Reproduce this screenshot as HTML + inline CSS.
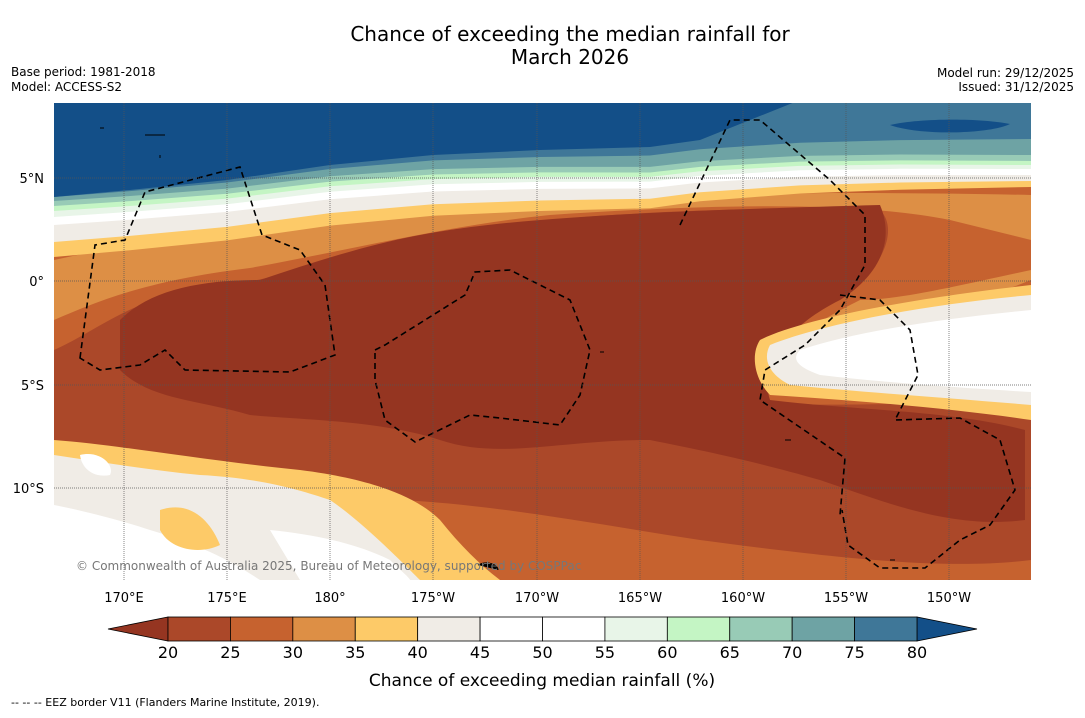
<!DOCTYPE html>
<html><head><meta charset="utf-8"><style>
body{margin:0;background:#fff;font-family:"Liberation Sans","DejaVu Sans",sans-serif}
svg text{font-family:"DejaVu Sans","Liberation Sans",sans-serif}
</style></head><body>
<svg width="1085" height="713" viewBox="0 0 1085 713">
<text x="570" y="41" font-size="20" text-anchor="middle">Chance of exceeding the median rainfall for</text>
<text x="570" y="64" font-size="20" text-anchor="middle">March 2026</text>
<text x="11" y="76" font-size="12">Base period: 1981-2018</text>
<text x="11" y="91" font-size="12">Model: ACCESS-S2</text>
<text x="1074" y="77" font-size="12" text-anchor="end">Model run: 29/12/2025</text>
<text x="1074" y="91" font-size="12" text-anchor="end">Issued: 31/12/2025</text>
<defs><clipPath id="mc"><rect x="54" y="103" width="977" height="477"/></clipPath></defs>
<g clip-path="url(#mc)">
<rect x="54" y="103" width="977" height="477" fill="#c6622f"/>
<path d="M54,260C100,250 150,240 200,235C300,225 400,210 500,205C650,195 800,190 1031,195V280C980,300 900,330 850,340C800,350 760,360 760,400L1031,410V580H54Z" fill="#dd8f45"/>
<path d="M54,320C100,300 150,280 250,268C350,250 450,225 550,215C700,205 850,200 950,220L1031,240V270C960,285 900,300 860,300C800,330 760,360 765,395L1031,395V580H54Z" fill="#c6622f"/>
<path d="M54,350C100,330 140,290 230,285C320,270 380,245 450,230C550,218 700,205 880,210C900,230 880,270 850,290C800,320 760,355 760,400C800,410 900,400 1031,405V560C950,570 850,560 700,540C600,525 500,505 400,500C300,490 200,470 54,445Z" fill="#ab4829"/>
<path d="M120,320C150,290 200,280 260,280C320,260 380,240 450,230C550,215 700,210 880,205C895,240 880,275 840,300C780,330 760,370 770,400C850,410 950,410 1025,430V520C950,530 880,500 820,480C750,460 700,450 650,440C560,440 500,460 440,440C380,420 300,420 250,415C200,400 150,400 120,370Z" fill="#953521"/>
<g id="topbands"></g>
<path d="M760,340C800,320 900,300 1031,285V420C950,408 850,400 770,395C755,380 750,355 760,340Z" fill="#fdca68"/>
<path d="M770,345C820,325 920,305 1031,295V405C950,398 860,392 790,385C770,375 762,360 770,345Z" fill="#f0ece6"/>
<path d="M800,350C860,330 950,318 1031,310V392C960,388 880,382 820,375C800,368 790,360 800,350Z" fill="#ffffff"/>
<path d="M54,440C120,445 200,460 300,470C380,480 420,500 440,520C460,545 480,565 500,580H54Z" fill="#fdca68"/>
<path d="M54,455C100,462 150,470 200,475C260,478 300,490 330,500C360,520 400,560 420,580H54Z" fill="#f0ece6"/>
<path d="M54,505C80,510 120,520 150,530C200,545 230,560 260,580H54Z" fill="#ffffff"/>
<path d="M270,530C320,535 360,545 390,560C400,570 410,578 410,580H300Z" fill="#ffffff"/>
<path d="M160,510C190,500 210,520 220,545C200,555 170,550 160,530Z" fill="#fdca68"/>
<path d="M80,455C100,450 115,465 110,475C95,478 82,470 80,455Z" fill="#ffffff"/>
<path d="M890,125C920,118 980,118 1010,124C990,134 920,136 890,125Z" fill="#134f88"/>
<g stroke="#000" stroke-width="1.6" stroke-dasharray="6,4" fill="none">
<path d="M80,358L95,245L125,240L145,192L240,167L262,235L300,250L325,285L335,355L290,372L185,370L165,350L140,365L100,370Z"/>
<path d="M375,350L385,345L465,295L475,272L510,270L570,300L590,350L580,395L560,425L500,418L470,415L415,442L385,420L375,380Z"/>
<path d="M680,225L730,120L760,120L830,180L865,215L865,265L840,310L805,345L765,370L760,400L845,458L840,515"/>
<path d="M840,295L880,300L910,330L918,375L895,420L960,418L1000,440L1015,490L990,525L960,540L925,568L880,568L848,545L842,510"/>
</g>
<g stroke="#000" stroke-width="1">
<path d="M145,135h20M100,128h4M160,155v3M785,440h6M600,352h4M890,560h5M478,565c10,-5 20,0 20,5"/>
</g>
<g stroke="#555" stroke-width="0.7" stroke-dasharray="1,1">
<line x1="124" y1="103" x2="124" y2="580"/><line x1="227" y1="103" x2="227" y2="580"/><line x1="330" y1="103" x2="330" y2="580"/><line x1="433" y1="103" x2="433" y2="580"/><line x1="537" y1="103" x2="537" y2="580"/><line x1="640" y1="103" x2="640" y2="580"/><line x1="743" y1="103" x2="743" y2="580"/><line x1="846" y1="103" x2="846" y2="580"/><line x1="949" y1="103" x2="949" y2="580"/>
<line x1="54" y1="178" x2="1031" y2="178"/><line x1="54" y1="281" x2="1031" y2="281"/><line x1="54" y1="385" x2="1031" y2="385"/><line x1="54" y1="488" x2="1031" y2="488"/>
</g>
<text x="76" y="570" font-size="12" fill="#777">© Commonwealth of Australia 2025, Bureau of Meteorology, supported by COSPPac</text>
</g>
<g font-size="13">
<text x="44" y="183" text-anchor="end">5°N</text><text x="44" y="286" text-anchor="end">0°</text><text x="44" y="390" text-anchor="end">5°S</text><text x="44" y="493" text-anchor="end">10°S</text>
</g>
<g font-size="13" text-anchor="middle">
<text x="124" y="602">170°E</text><text x="227" y="602">175°E</text><text x="330" y="602">180°</text><text x="433" y="602">175°W</text><text x="537" y="602">170°W</text><text x="640" y="602">165°W</text><text x="743" y="602">160°W</text><text x="846" y="602">155°W</text><text x="949" y="602">150°W</text>
</g>
<g id="cbar"></g>
<text x="542" y="686" font-size="17" text-anchor="middle">Chance of exceeding median rainfall (%)</text>
<text x="11" y="706" font-size="11">-- -- -- EEZ border V11 (Flanders Marine Institute, 2019).</text>
</svg>
<script>
const NS="http://www.w3.org/2000/svg";
// top latitude bands (north), drawn from bottom band up
const tb=document.getElementById('topbands');
const bx=[54,130,227,330,433,540,650,700,800,900,1031];
const by=[197,190,180,165,155,150,147,140,132,128,125];
const bandCols=["#fdca68","#f0ece6","#ffffff","#e8f5e8","#c4f5c4","#98cbb6","#6ea3a4","#3f7798","#134f88"];
const offL=[60,45,28,20,14,9,4,0,0];
const offR=[62,56,50,44,40,36,30,14,0];
for(let b=0;b<bandCols.length;b++){
 let d="M54,103";
 for(let i=0;i<bx.length;i++){const t=(bx[i]-54)/977;const off=offL[b]*(1-t)+offR[b]*t;
  let y=by[i]+off; if(b===8&&bx[i]>700) y=100; d+=` L${bx[i]},${y.toFixed(1)}`;}
 d+=" L1031,103Z";
 const p=document.createElementNS(NS,'path');p.setAttribute('d',d);p.setAttribute('fill',bandCols[b]);
 
 
 tb.appendChild(p);
}
const levels=[20,25,30,35,40,45,50,55,60,65,70,75,80];
const colors=["#ab4829","#c6622f","#dd8f45","#fdca68","#f0ece6","#ffffff","#ffffff","#e8f5e8","#c4f5c4","#98cbb6","#6ea3a4","#3f7798"];
const underColor="#953521", overColor="#134f88";
const g=document.getElementById('cbar');
const x0=168,x1=917,y0=617,h=24;
const sx=v=>x0+(v-levels[0])/(levels[levels.length-1]-levels[0])*(x1-x0);
function mk(t,a){const e=document.createElementNS(NS,t);for(const k in a)e.setAttribute(k,a[k]);g.appendChild(e);return e;}
let p=mk('polygon',{points:`${x0},${y0} ${x0},${y0+h} 108,${y0+h/2}`,fill:underColor,stroke:"#000","stroke-width":0.8});


p=mk('polygon',{points:`${x1},${y0} ${x1},${y0+h} 977,${y0+h/2}`,fill:overColor,stroke:"#000","stroke-width":0.8});


colors.forEach((c,i)=>{const r=mk('rect',{x:sx(levels[i]),y:y0,width:sx(levels[i+1])-sx(levels[i]),height:h,fill:c,stroke:"#000","stroke-width":0.8});

});
levels.forEach(v=>{const t=mk('text',{x:sx(v),y:658,"font-size":16,"text-anchor":"middle"});t.textContent=v;

});
</script>
</body></html>
